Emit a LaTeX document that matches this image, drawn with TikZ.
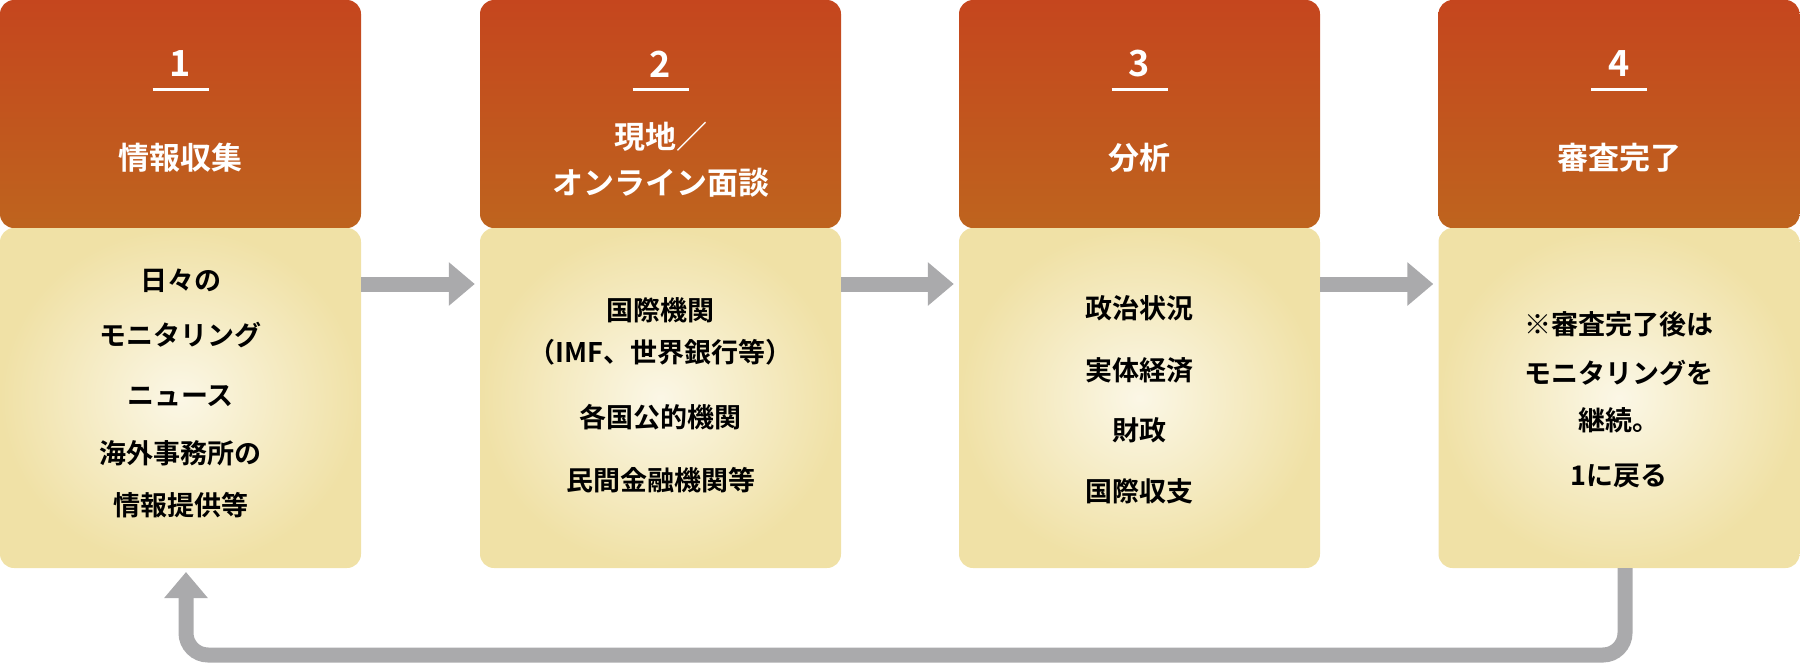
\documentclass[tikz,border=0pt]{standalone}
\usepackage{fontspec}
\setmainfont{Noto Sans CJK JP Bold}
\usetikzlibrary{arrows.meta}
\definecolor{htop}{HTML}{C5461E}
\definecolor{hbot}{HTML}{B4901E}
\definecolor{bin}{HTML}{FBF7E6}
\definecolor{bout}{HTML}{F0E1A6}
\definecolor{gr}{HTML}{AAAAAC}
\tikzset{x=1pt,y=1pt,
 box/.style={minimum width=361pt,minimum height=568pt,inner sep=0pt,rounded corners=14pt,
  path picture={
   \shade[top color=htop,bottom color=hbot] (path picture bounding box.north west) rectangle ([yshift=-228pt]path picture bounding box.north east);
   \shade[inner color=bin,outer color=bout] ([yshift=-228pt]path picture bounding box.north west) rectangle (path picture bounding box.south east);
  }},
 num/.style={text=white,font=\fontsize{36}{40}\selectfont},
 ttl/.style={text=white,font=\fontsize{31}{46}\selectfont,align=center},
 bd/.style={text=black,font=\fontsize{27}{32}\selectfont},
 garrow/.style={draw=gr,line width=15pt,-{Triangle[width=42pt,length=26pt]}},
 uline/.style={draw=white,line width=3pt}}
\begin{document}
\begin{tikzpicture}
\useasboundingbox (0,0) rectangle (1800,-665);
\foreach \i/\x in {1/180.5,2/660.5,3/1139.5,4/1619}{
 \node[box] (b\i) at (\x,-284) {};
 \node[num] (n\i) at (\x,-64) {\i};
 \draw[uline] (\x-28,-89) -- (\x+28,-89);
}
\node[ttl] (t1) at (180.5,-158) {情報収集};
\node[ttl] (t2) at (660.5,-160) {現地／\\オンライン面談};
\node[ttl] (t3) at (1139.5,-158) {分析};
\node[ttl] (t4) at (1619,-158) {審査完了};
% box 1
\node[bd] (a1) at (180.5,-281) {日々の};
\node[bd] (a2) at (180.5,-335) {モニタリング};
\node[bd] (a3) at (180.5,-396) {ニュース};
\node[bd] (a4) at (180.5,-453) {海外事務所の};
\node[bd] (a5) at (180.5,-505) {情報提供等};
% box 2
\node[bd] (c1) at (660.5,-310) {国際機関};
\node[bd] (c2) at (660.5,-352) {（IMF、世界銀行等）};
\node[bd] (c3) at (660.5,-417) {各国公的機関};
\node[bd] (c4) at (660.5,-480) {民間金融機関等};
% box 3
\node[bd] (d1) at (1139.5,-308) {政治状況};
\node[bd] (d2) at (1139.5,-370) {実体経済};
\node[bd] (d3) at (1139.5,-430) {財政};
\node[bd] (d4) at (1139.5,-491) {国際収支};
% box 4
\node[bd] (e1) at (1619,-324) {※審査完了後は};
\node[bd] (e2) at (1619,-373) {モニタリングを};
\node[bd] (e3) at (1619,-420) {継続。};
\node[bd] (e4) at (1619,-476) {1に戻る};
% arrows
\draw[garrow,shorten >=5pt] (b1.east) -- (b2.west);
\draw[garrow,shorten >=5pt] (b2.east) -- (b3.west);
\draw[garrow,shorten >=5pt] (b3.east) -- (b4.west);
\coordinate (s) at (1625,-568);
\coordinate (c) at (1625,-655);
\coordinate (d) at (186,-655);
\coordinate (e) at (186,-568);
\draw[garrow,rounded corners=22pt,shorten >=4pt] (s) -- (c) -- (d) -- (e);
\end{tikzpicture}
\end{document}
